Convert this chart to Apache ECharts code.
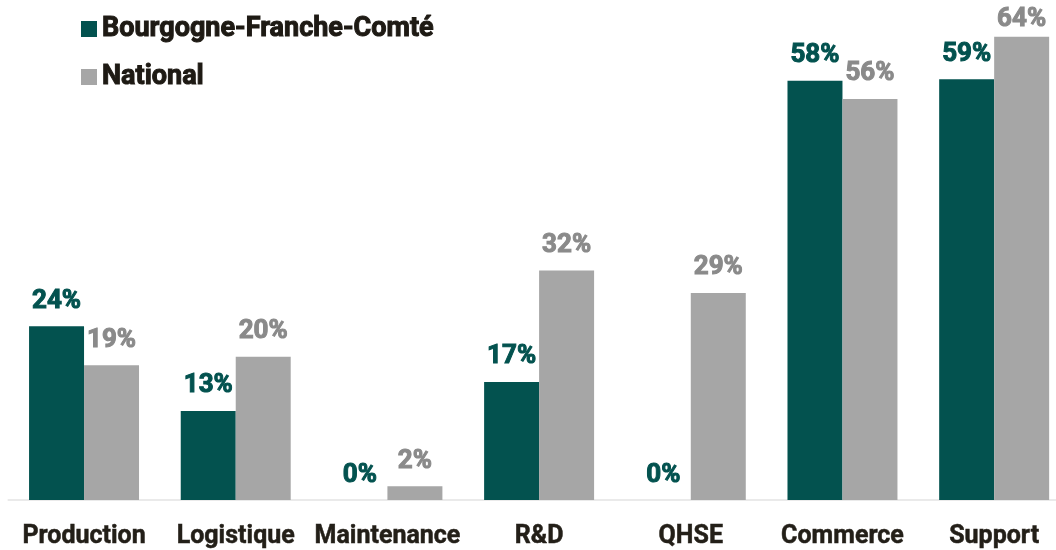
<!DOCTYPE html>
<html><head><meta charset="utf-8">
<script src="https://cdn.jsdelivr.net/npm/echarts@6/dist/echarts.min.js"></script>
<style>html,body{margin:0;padding:0;background:#fff;overflow:hidden}#c{width:1070px;height:550px}</style>
</head><body><div id="c"></div>
<script>
const categories = ['Production','Logistique','Maintenance','R&D','QHSE','Commerce','Support'];
const regionValues = [24.0, 12.3, 0, 16.3, 0, 57.9, 58.1];
const nationalValues = [18.6, 19.8, 1.9, 31.7, 28.6, 55.4, 64.0];
const regionLabels = ['24%','13%','0%','17%','0%','58%','59%'];
const nationalLabels = ['19%','20%','2%','32%','29%','56%','64%'];
const seriesNames = ['Bourgogne-Franche-Comté','National'];

const teal = '#03524f', gray = '#a6a6a6', grayText = '#8a8a8a', dark = '#1e1a14';
const chart = echarts.init(document.getElementById('c'));
const font = 'Roboto';
const yMax = 65;
// labels near the top of the plot are drawn a little closer to their bar so they stay visible
const withLabelFit = vals => vals.map(v => v > yMax - 3 ? {value:v, label:{distance:4}} : v);
chart.setOption({
  animation:false,
  legend:{orient:'vertical',left:76,top:10,itemWidth:16,itemHeight:16,itemGap:20,
    icon:'rect',
    textStyle:{fontFamily:font,fontWeight:'bold',fontSize:27,color:dark,
      textBorderColor:dark,textBorderWidth:1},
    data:seriesNames},
  grid:{left:8.2,right:0,top:29.4,bottom:50,containLabel:false},
  xAxis:{type:'category',data:categories,
    axisLine:{lineStyle:{color:'#e3e3e3',width:1.5}},axisTick:{show:false},
    axisLabel:{fontFamily:font,fontWeight:'bold',fontSize:25,color:'#231f18',margin:24,interval:0,
      textBorderColor:'#231f18',textBorderWidth:0.5}},
  yAxis:{type:'value',min:0,max:yMax,show:false,splitLine:{show:false}},
  series:[
    {name:seriesNames[0],type:'bar',data:withLabelFit(regionValues),barGap:'0%',barCategoryGap:'27.5%',
     itemStyle:{color:teal},
     label:{show:true,position:'top',distance:12,fontFamily:font,fontWeight:'bold',fontSize:26,color:teal,
       textBorderColor:teal,textBorderWidth:1,
       formatter:p=>regionLabels[p.dataIndex]}},
    {name:seriesNames[1],type:'bar',data:withLabelFit(nationalValues),
     itemStyle:{color:gray},
     label:{show:true,position:'top',distance:12,fontFamily:font,fontWeight:'bold',fontSize:26,color:grayText,
       textBorderColor:grayText,textBorderWidth:1,
       formatter:p=>nationalLabels[p.dataIndex]}}
  ]
});
</script></body></html>
